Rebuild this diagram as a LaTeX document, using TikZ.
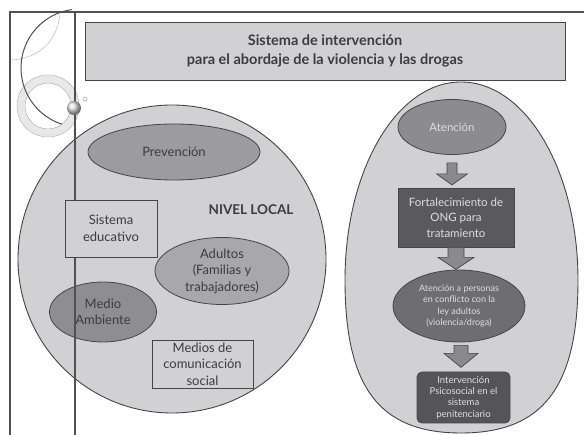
\documentclass[tikz,border=0pt]{standalone}
\usepackage{fontspec}
\setmainfont{Lato}
\usetikzlibrary{shapes.geometric,calc}
\definecolor{frameC}{HTML}{505050}
\definecolor{edgeC}{HTML}{454545}
\definecolor{lightC}{HTML}{D1D1D4}
\definecolor{prevC}{HTML}{9C9C9E}
\definecolor{adulC}{HTML}{A8A8AA}
\definecolor{medioC}{HTML}{8E8E90}
\definecolor{atenC}{HTML}{8C8C8E}
\definecolor{fortC}{HTML}{5A5A5C}
\definecolor{ellC}{HTML}{6E6E70}
\definecolor{botC}{HTML}{555557}
\definecolor{arrC}{HTML}{8A8A8C}
\definecolor{txtD}{HTML}{3C3C3C}
\definecolor{txtL}{HTML}{DEDEDE}
\tikzset{
  x=1pt, y=-1pt,
  frameline/.style={draw=frameC, line width=1.6pt},
  bigshape/.style={fill=lightC, draw=edgeC, line width=0.9pt},
  titlebox/.style={rectangle, fill=lightC, draw=edgeC, line width=0.9pt, inner sep=0pt, align=center, text=txtD, font=\fontsize{14.5}{18.5}\selectfont\bfseries},
  ellnode/.style={ellipse, draw=edgeC, line width=0.8pt, inner sep=0pt, align=center},
  boxnode/.style={rectangle, draw=edgeC, line width=0.8pt, inner sep=0pt, align=center},
  lefttext/.style={text=txtD, font=\fontsize{13}{16.5}\selectfont},
  blockarrow/.style={fill=arrC, draw=edgeC, line width=0.7pt, line join=miter},
}
\begin{document}
\begin{tikzpicture}
\useasboundingbox (0,0) rectangle (584,435);
\fill[white] (0,0) rectangle (584,435);

% decorations at the left
\draw[gray!45, line width=0.6pt] (60,13) .. controls (58,40) and (40,58) .. (12,60);
\draw[gray!18, line width=7pt] (48,106) circle (27);
\draw[gray!65, line width=0.5pt] (48,106) circle (31);
\draw[gray!65, line width=0.5pt] (48,106) circle (23);
\draw[frameC, line width=1pt] (80,68) ++(108:59) arc[start angle=108, end angle=262, radius=59];

% frame
\draw[frameline] (10,435) -- (10,12) -- (584,12);

% title
\node[titlebox, minimum width=480, minimum height=58] (title) at (325,51)
  {Sistema de intervención\\para el abordaje de la violencia y las drogas};

% left circle
\node[circle, bigshape, minimum size=308, inner sep=0pt] (local) at (172,259) {};
\node[ellnode, fill=prevC, minimum width=172, minimum height=56, lefttext] (prev) at (174,152) {Prevención};
\node[ellnode, fill=adulC, minimum width=134, minimum height=67, lefttext] (adul) at (222,271) {Adultos\\(Familias y\\trabajadores)};
\node[ellnode, fill=medioC, minimum width=107, minimum height=60, lefttext] (medio) at (103,312) {Medio\\Ambiente};

% thick vertical line
\draw[frameC, line width=2.6pt] (75,12) -- (75,435);
\shade[ball color=gray!25] (74,108) circle (7);
\draw[gray!70, line width=0.6pt] (85,99) circle (2);

\node[boxnode, fill=lightC, minimum width=92, minimum height=57, lefttext] (sis) at (111,228.5) {Sistema\\educativo};
\node[boxnode, fill=lightC, minimum width=101, minimum height=48, lefttext] (medios) at (202.5,364) {Medios de\\comunicación\\social};
\node[text=txtD, font=\fontsize{13.5}{16}\selectfont\bfseries] (nivel) at (251,210) {NIVEL LOCAL};

% right shape
\draw[bigshape] (461,82) .. controls (526,82) and (578,171) .. (578,280)
  .. controls (578,387) and (543,433) .. (461,433)
  .. controls (379,433) and (345,387) .. (345,280)
  .. controls (345,171) and (396,82) .. (461,82) -- cycle;

\node[ellnode, fill=atenC, minimum width=108, minimum height=55, text=txtL, font=\fontsize{11.5}{14}\selectfont] (aten) at (452,127) {Atención};
\node[boxnode, fill=fortC, minimum width=116, minimum height=59, text=txtL, font=\fontsize{11.5}{15.5}\selectfont] (fort) at (456,217.5) {Fortalecimiento de\\ONG para\\tratamiento};
\node[ellnode, fill=ellC, minimum width=132, minimum height=72, text=txtL, font=\fontsize{9}{11.5}\selectfont] (pers) at (459,306) {Atención a personas\\en conflicto con la\\ley adultos\\(violencia/droga)};
\node[boxnode, rounded corners=5pt, fill=botC, minimum width=93, minimum height=51, text=txtL, font=\fontsize{9.5}{11.3}\selectfont] (peni) at (463.5,397.5) {Intervención\\Psicosocial en el\\sistema\\penitenciario};

% block arrows
\coordinate (a1) at ($(aten.south)+(0,8)$);
\draw[blockarrow] (a1) -- ++(5,0) -- ++(0,11) -- ++(10.5,0) -- ++(-15.5,11) -- ++(-15.5,-11) -- ++(10.5,0) -- ++(0,-11) -- cycle;
\coordinate (a2) at (fort.south);
\draw[blockarrow] (a2) -- ++(8,0) -- ++(0,10) -- ++(10,0) -- ++(-18,12) -- ++(-18,-12) -- ++(10,0) -- ++(0,-10) -- cycle;
\coordinate (a3) at ($(pers.south)+(2,3)$);
\draw[blockarrow] (a3) -- ++(7,0) -- ++(0,8) -- ++(10,0) -- ++(-17,14) -- ++(-17,-14) -- ++(10,0) -- ++(0,-8) -- cycle;
\end{tikzpicture}
\end{document}
